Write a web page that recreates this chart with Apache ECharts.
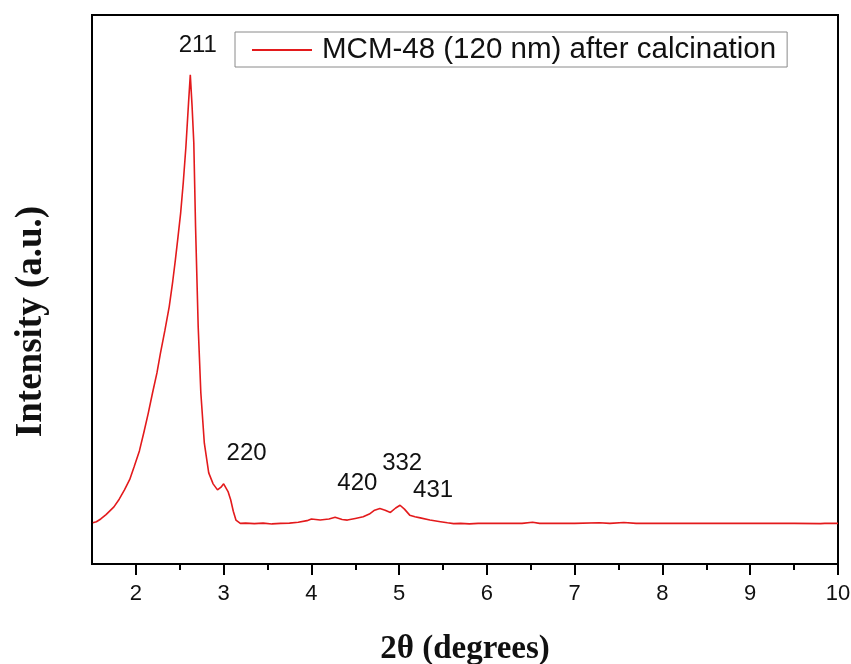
<!DOCTYPE html>
<html>
<head>
<meta charset="utf-8">
<script src="https://cdn.jsdelivr.net/npm/echarts@6/dist/echarts.min.js"></script>
<style>html,body{margin:0;padding:0;background:#fff}#c{width:851px;height:664px}</style>
</head>
<body>
<div id="c"></div>
<script>
const seriesName = 'MCM-48 (120 nm) after calcination';
const twoTheta = [1.51,1.55,1.60,1.66,1.75,1.81,1.87,1.93,1.98,2.04,2.09,2.14,2.19,2.24,2.28,2.33,2.38,2.42,2.45,2.48,2.51,2.54,2.57,2.60,2.62,2.64,2.66,2.68,2.71,2.74,2.78,2.83,2.88,2.93,2.97,3.00,3.02,3.05,3.08,3.11,3.14,3.19,3.25,3.35,3.45,3.55,3.65,3.75,3.85,3.95,4.00,4.10,4.20,4.27,4.35,4.41,4.50,4.59,4.66,4.72,4.78,4.84,4.90,4.96,5.01,5.06,5.12,5.18,5.24,5.35,5.47,5.55,5.62,5.70,5.80,5.90,6.00,6.20,6.40,6.52,6.60,6.80,7.00,7.28,7.40,7.56,7.70,8.00,8.50,9.00,9.50,9.80,9.85,10.00];
const intensity = [7.5,7.7,8.2,9.0,10.4,11.8,13.5,15.4,17.7,20.6,23.9,27.4,31.2,34.8,38.4,42.5,46.9,51.5,55.4,59.6,63.9,69.5,76.0,84.0,89.1,83.5,76.7,61.4,43.2,31.2,22.0,16.6,14.6,13.5,14.0,14.6,14.5,13.2,11.7,9.6,8.0,7.4,7.45,7.35,7.45,7.3,7.4,7.45,7.6,7.9,8.2,8.0,8.2,8.5,8.1,8.0,8.3,8.6,9.1,9.8,10.1,9.8,9.4,10.2,10.7,10.0,8.9,8.6,8.4,8.0,7.7,7.5,7.35,7.4,7.3,7.4,7.4,7.4,7.4,7.6,7.4,7.4,7.4,7.5,7.4,7.55,7.4,7.4,7.4,7.4,7.4,7.35,7.4,7.4];
const peakLabels = ['211','220','420','332','431'];
const peakLabelX = [2.705,3.261,4.523,5.034,5.386];
const peakLabelY = [94.5,20.2,14.75,18.4,13.5];
const majorTicks = [2,3,4,5,6,7,8,9,10];
const minorTicks = [2.5,3.5,4.5,5.5,6.5,7.5,8.5,9.5];

const lineData = twoTheta.map((x,i)=>[x,intensity[i]]);
const labelData = peakLabels.map((t,i)=>({name:t,value:[peakLabelX[i],peakLabelY[i]]}));

const chart = echarts.init(document.getElementById('c'), null, {renderer:'canvas'});
chart.setOption({
  animation:false,
  backgroundColor:'#fff',
  grid:{left:92,right:13,top:15,bottom:100,show:true,borderColor:'#000',borderWidth:2,backgroundColor:'transparent',containLabel:false,outerBoundsMode:'none'},
  legend:{
    data:[{name:seriesName,icon:'rect'}],
    left:235, top:32,
    orient:'horizontal',
    itemWidth:60, itemHeight:2,
    padding:[3,11,2,17],
    borderColor:'#8a8a8a', borderWidth:1,
    itemStyle:{color:'#e31a1c'},
    textStyle:{fontFamily:'Liberation Sans',fontSize:29.5,color:'#111',padding:[0,0,0,5]}
  },
  xAxis:[{
    type:'value', min:1.5, max:10,
    axisLine:{show:true,onZero:false,lineStyle:{color:'#000',width:2}},
    axisTick:{show:true,customValues:majorTicks,length:11,inside:false,lineStyle:{color:'#000',width:2}},
    axisLabel:{show:true,customValues:majorTicks,margin:19,fontFamily:'Liberation Sans',fontSize:22,color:'#111'},
    splitLine:{show:false},
    name:'2θ (degrees)', nameLocation:'middle', nameGap:69,
    nameTextStyle:{fontFamily:'Liberation Serif',fontWeight:'bold',fontSize:33,color:'#111'}
  },{
    type:'value', min:1.5, max:10, position:'bottom',
    axisLine:{show:false},
    axisTick:{show:true,customValues:minorTicks,length:6,inside:false,lineStyle:{color:'#000',width:2}},
    axisLabel:{show:false},
    splitLine:{show:false}
  }],
  yAxis:{
    type:'value', min:0, max:100,
    axisLine:{show:true,lineStyle:{color:'#000',width:2}},
    axisTick:{show:false}, axisLabel:{show:false}, splitLine:{show:false},
    name:'Intensity (a.u.)', nameLocation:'middle', nameGap:42, nameRotate:90,
    nameTextStyle:{fontFamily:'Liberation Serif',fontWeight:'bold',fontSize:37,color:'#111',padding:[0,64,0,0]}
  },
  series:[{
    name:seriesName, type:'line', data:lineData,
    symbol:'none', smooth:false,
    lineStyle:{color:'#e31a1c',width:1.6},
    itemStyle:{color:'#e31a1c'}
  },{
    name:'labels', type:'scatter', data:labelData, silent:true,
    symbolSize:0, itemStyle:{color:'#fff'},
    label:{show:true,position:[0,0],align:'center',verticalAlign:'middle',formatter:p=>p.name,fontFamily:'Liberation Sans',fontSize:24,color:'#111',textBorderWidth:0,opacity:1}
  }]
});
</script>
</body>
</html>
